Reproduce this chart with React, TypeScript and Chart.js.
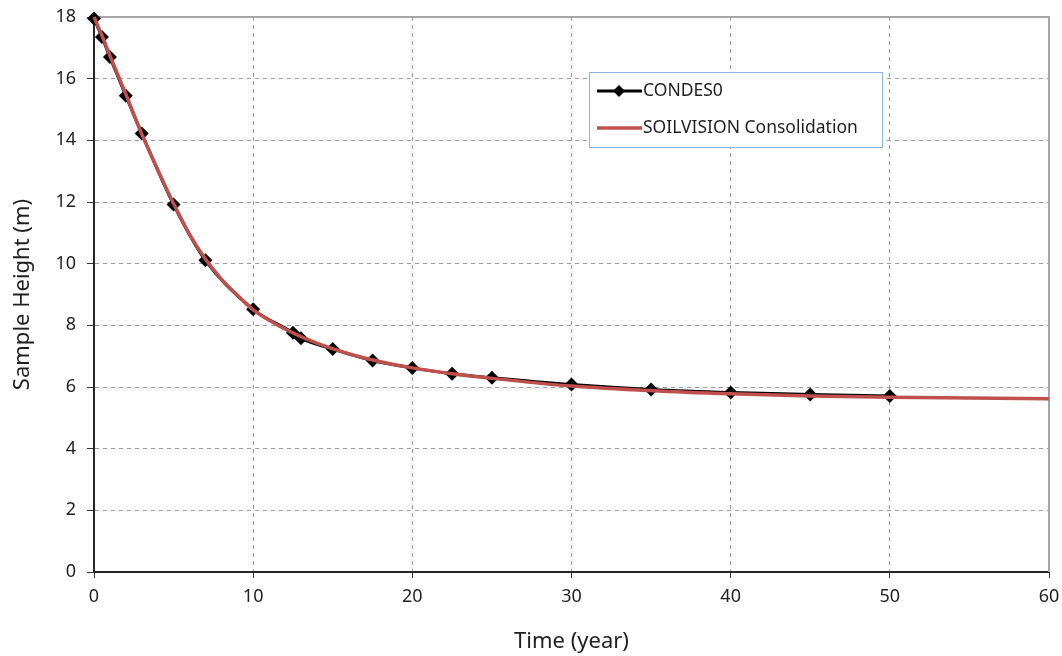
import React, { useEffect, useRef } from "react";
import { Chart, registerables } from "chart.js";

Chart.register(...registerables);

// CONDES0 (black line with diamond markers)
const condesTime = [0, 0.5, 1, 2, 3, 5, 7, 10, 12.5, 13, 15, 17.5, 20, 22.5, 25, 30, 35, 40, 45, 50];
const condesHeight = [17.95, 17.35, 16.7, 15.45, 14.22, 11.92, 10.11, 8.52, 7.76, 7.58, 7.23, 6.86, 6.62, 6.43, 6.3, 6.08, 5.92, 5.82, 5.76, 5.71];

// SOILVISION Consolidation (red smooth line)
const soilTime = [0, 0.5, 1, 2, 3, 4, 5, 6, 7, 8, 9, 10, 12, 14, 16, 18, 20, 22.5, 25, 30, 35, 40, 45, 50, 55, 60];
const soilHeight = [18.0, 17.4, 16.75, 15.5, 14.2, 13.05, 11.95, 10.95, 10.15, 9.5, 8.98, 8.5, 7.88, 7.42, 7.08, 6.82, 6.62, 6.43, 6.28, 6.03, 5.88, 5.78, 5.71, 5.67, 5.64, 5.62];

const seriesLabels = ["CONDES0", "SOILVISION Consolidation"];
const xTitle = "Time (year)";
const yTitle = "Sample Height (m)";

const FONT = "'Noto Sans', 'Open Sans', sans-serif";
const RED = "#c0504d";
const TEXT = "#1f1f1f";

const frameAndLegend = {
  id: "frameAndLegend",
  beforeDatasetsDraw(chart: any) {
    const { ctx, chartArea } = chart;
    ctx.save();
    // top and right frame
    ctx.strokeStyle = "#a6a6a6";
    ctx.lineWidth = 2;
    ctx.setLineDash([]);
    ctx.beginPath();
    ctx.moveTo(chartArea.left, chartArea.top);
    ctx.lineTo(chartArea.right, chartArea.top);
    ctx.lineTo(chartArea.right, chartArea.bottom);
    ctx.stroke();
    ctx.restore();
  },
  afterDatasetsDraw(chart: any) {
    const { ctx, chartArea } = chart;
    ctx.save();
    // legend box
    const bx = chartArea.left + 495;
    const by = chartArea.top + 55;
    const bw = 293;
    const bh = 75;
    ctx.fillStyle = "#ffffff";
    ctx.fillRect(bx, by, bw, bh);
    ctx.strokeStyle = "#8db3e2";
    ctx.lineWidth = 1;
    ctx.strokeRect(bx + 0.5, by + 0.5, bw, bh);

    const rows = [by + 19, by + 56];
    // entry 1
    ctx.strokeStyle = "#000000";
    ctx.lineWidth = 3;
    ctx.beginPath();
    ctx.moveTo(bx + 8, rows[0]);
    ctx.lineTo(bx + 53, rows[0]);
    ctx.stroke();
    ctx.fillStyle = "#000000";
    ctx.beginPath();
    const cx = bx + 30;
    ctx.moveTo(cx, rows[0] - 6);
    ctx.lineTo(cx + 6, rows[0]);
    ctx.lineTo(cx, rows[0] + 6);
    ctx.lineTo(cx - 6, rows[0]);
    ctx.closePath();
    ctx.fill();
    // entry 2
    ctx.strokeStyle = RED;
    ctx.lineWidth = 3.5;
    ctx.beginPath();
    ctx.moveTo(bx + 8, rows[1]);
    ctx.lineTo(bx + 53, rows[1]);
    ctx.stroke();

    ctx.fillStyle = TEXT;
    ctx.font = `17.5px ${FONT}`;
    ctx.textBaseline = "middle";
    ctx.textAlign = "left";
    ctx.fillText(seriesLabels[0], bx + 54, rows[0]);
    ctx.fillText(seriesLabels[1], bx + 54, rows[1]);
    ctx.restore();
  },
};

export default function App() {
  const ref = useRef<HTMLCanvasElement | null>(null);

  useEffect(() => {
    document.body.style.margin = "0";
    const canvas = ref.current;
    if (!canvas) return;
    const chart = new Chart(canvas, {
      type: "line",
      data: {
        datasets: [
          {
            label: seriesLabels[0],
            data: condesTime.map((t, i) => ({ x: t, y: condesHeight[i] })),
            borderColor: "#000000",
            backgroundColor: "#000000",
            borderWidth: 3,
            pointStyle: "rectRot",
            pointRadius: 7,
            pointBorderWidth: 0,
            pointBackgroundColor: "#000000",
            cubicInterpolationMode: "monotone",
            clip: false,
            order: 1,
          },
          {
            label: seriesLabels[1],
            data: soilTime.map((t, i) => ({ x: t, y: soilHeight[i] })),
            borderColor: RED,
            backgroundColor: RED,
            borderWidth: 3.5,
            pointRadius: 0,
            cubicInterpolationMode: "monotone",
            clip: false,
            order: 0,
          },
        ],
      },
      options: {
        responsive: false,
        animation: false,
        maintainAspectRatio: false,
        layout: { padding: { top: 17, right: 13, left: 0, bottom: 0 } },
        plugins: {
          legend: { display: false },
          tooltip: { enabled: false },
        },
        scales: {
          x: {
            type: "linear",
            min: 0,
            max: 60,
            ticks: {
              stepSize: 10,
              font: { family: FONT, size: 18 },
              color: TEXT,
              padding: 8,
            },
            grid: {
              color: "#9a9a9a",
              lineWidth: 1,
              tickLength: 6,
              tickColor: "#333333",
              tickBorderDash: [],
            },
            border: { color: "#262626", width: 2, dash: [4, 4] },
            title: {
              display: true,
              text: xTitle,
              font: { family: FONT, size: 22 },
              color: TEXT,
              padding: { top: 1, bottom: 1 },
            },
            afterFit: (scale: any) => {
              scale.height = 84;
              scale.paddingLeft = 0;
              scale.paddingRight = 0;
            },
          },
          y: {
            type: "linear",
            min: 0,
            max: 18,
            ticks: {
              stepSize: 2,
              font: { family: FONT, size: 18 },
              color: TEXT,
              padding: 11,
            },
            grid: {
              color: "#9a9a9a",
              lineWidth: 1,
              tickLength: 7,
              tickColor: "#333333",
              tickBorderDash: [],
            },
            border: { color: "#262626", width: 2, dash: [4, 4] },
            title: {
              display: true,
              text: yTitle,
              font: { family: FONT, size: 22 },
              color: TEXT,
              padding: { top: 10, bottom: 10 },
            },
            afterFit: (scale: any) => {
              scale.width = 94;
              scale.paddingTop = 0;
              scale.paddingBottom = 0;
            },
          },
        },
      },
      plugins: [frameAndLegend],
    } as any);
    return () => chart.destroy();
  }, []);

  return (
    <div style={{ width: 1062, height: 656, background: "#ffffff" }}>
      <canvas ref={ref} width={1062} height={656} style={{ display: "block" }} />
    </div>
  );
}
